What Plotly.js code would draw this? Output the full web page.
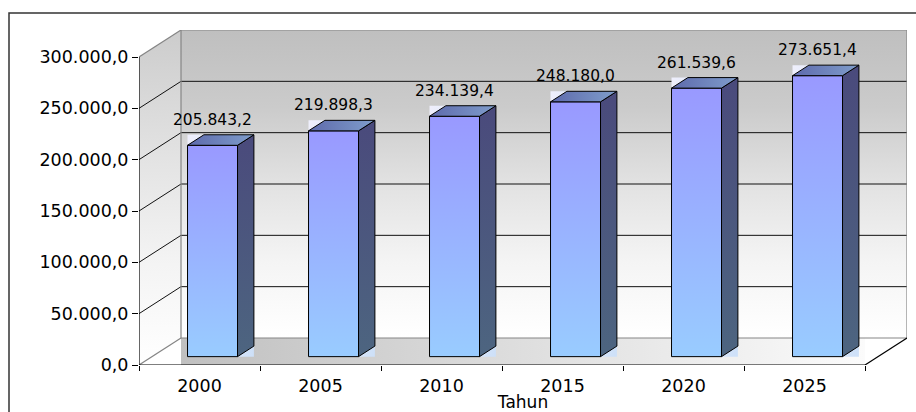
<!DOCTYPE html>
<html>
<head>
<meta charset="utf-8">
<script src="https://cdn.plot.ly/plotly-3.0.1.min.js"></script>
<style>
  html, body { margin: 0; padding: 0; background: #ffffff; }
  #chart { width: 916px; height: 412px; }
</style>
</head>
<body>
<div id="chart"></div>
<script>
// ---- data ----
const years = ['2000', '2005', '2010', '2015', '2020', '2025'];
const values = [205843.2, 219898.3, 234139.4, 248180.0, 261539.6, 273651.4];
const yTickVals = [0, 50000, 100000, 150000, 200000, 250000, 300000];
const xTitle = 'Tahun';

// ---- helpers ----
function fmt(v) {
  const s = v.toFixed(1).split('.');
  return s[0].replace(/\B(?=(\d{3})+(?!\d))/g, '.') + ',' + s[1];
}

// ---- geometry (oblique 3D projection) ----
const W = 916, H = 412;
const M = { l: 139, r: 9, t: 30, b: 47 };
const plotW = W - M.l - M.r, plotH = H - M.t - M.b;
const depthPxX = 42, depthPxY = 27;
const n = years.length;
const yMax = yTickVals[yTickVals.length - 1];
const pxPerX = (plotW - depthPxX) / n;
const pxPerY = (plotH - depthPxY) / yMax;
const DX = depthPxX / pxPerX;
const DY = depthPxY / pxPerY;
const xLo = -0.5, xHi = n - 0.5;
const z0 = 0.31, z1 = 0.70;        // bar depth span
const hw = 0.2066;                 // bar half width (category units)

function P(x, y, z) { return [x + z * DX, y + z * DY]; }

const traces = [];
function poly(pts, opts) {
  const xs = pts.map(p => p[0]), ys = pts.map(p => p[1]);
  xs.push(xs[0]); ys.push(ys[0]);
  traces.push(Object.assign({
    type: 'scatter', mode: 'lines', x: xs, y: ys, fill: 'toself',
    hoverinfo: 'skip', showlegend: false,
    line: { width: 0, color: 'rgba(0,0,0,0)' }
  }, opts));
}
function lines(segs, color, width) {
  const xs = [], ys = [];
  segs.forEach(s => { xs.push(s[0][0], s[1][0], null); ys.push(s[0][1], s[1][1], null); });
  traces.push({ type: 'scatter', mode: 'lines', x: xs, y: ys, hoverinfo: 'skip',
    showlegend: false, line: { color: color, width: width } });
}

const wallScale = [[0, '#ffffff'], [0.25, '#f4f4f4'], [0.5, '#e2e2e2'], [0.75, '#cbcbcb'], [1, '#bfbfbf']];

// back wall
poly([P(xLo, 0, 1), P(xHi, 0, 1), P(xHi, yMax, 1), P(xLo, yMax, 1)], {
  fillgradient: { type: 'vertical', colorscale: wallScale }
});
// side wall
poly([P(xLo, 0, 0), P(xLo, 0, 1), P(xLo, yMax, 1), P(xLo, yMax, 0)], {
  fillgradient: { type: 'vertical', colorscale: [[0, '#ffffff'], [0.3, '#f4f4f4'], [0.6, '#e4e4e4'], [1, '#cccccc']] }
});
// floor (Excel draws it as a shaded box between the wall corner and the front corner)
poly([[P(xLo, 0, 1)[0], 0], [xHi, 0], [xHi, DY], [P(xLo, 0, 1)[0], DY]], {
  fillgradient: { type: 'horizontal', colorscale: [[0, '#c0c0c0'], [0.5, '#dedede'], [1, '#fbfbfb']] }
});

// gridlines
const grid = [];
yTickVals.slice(1, -1).forEach(v => {
  grid.push([P(xLo, v, 0), P(xLo, v, 1)]);
  grid.push([P(xLo, v, 1), P(xHi, v, 1)]);
});
lines(grid, '#111111', 1);

// wall edges (gray)
lines([
  [P(xLo, 0, 1), P(xLo, yMax, 1)],
  [P(xLo, yMax, 1), P(xHi, yMax, 1)],
  [P(xHi, yMax, 1), P(xHi, 0, 1)],
  [P(xLo, 0, 1), P(xHi, 0, 1)],
  [P(xLo, yMax, 0), P(xLo, yMax, 1)],
  [P(xLo, 0, 0), P(xLo, 0, 1)]
], '#858585', 1.2);

// bars
const ann = [];
values.forEach((v, i) => {
  const a = i - hw, b = i + hw;
  // background box artifact
  poly([[P(a, 0, z0)[0], P(a, 0, z0)[1]], [P(b, 0, z1)[0], P(a, 0, z0)[1]],
        [P(b, 0, z1)[0], P(b, v, z1)[1]], [P(a, 0, z0)[0], P(b, v, z1)[1]]], {
    fillgradient: { type: 'horizontal', colorscale: [[0, '#efeffc'], [1, '#cde0f8']] }
  });
  // front face
  poly([P(a, 0, z0), P(b, 0, z0), P(b, v, z0), P(a, v, z0)], {
    fillgradient: { type: 'vertical', colorscale: [[0, '#99ccff'], [1, '#9999ff']] },
    line: { color: '#000000', width: 1 }
  });
  // side face
  poly([P(b, 0, z0), P(b, 0, z1), P(b, v, z1), P(b, v, z0)], {
    fillgradient: { type: 'vertical', colorscale: [[0, '#4d6580'], [1, '#4a4a7c']] },
    line: { color: '#000000', width: 1 }
  });
  // top face
  poly([P(a, v, z0), P(b, v, z0), P(b, v, z1), P(a, v, z1)], {
    fillgradient: { type: 'horizontal', colorscale: [[0, '#5e6aac'], [1, '#7f9dcb']] },
    line: { color: '#000000', width: 1 }
  });
  const c = P(i, v, z0);
  ann.push({
    x: c[0], y: P(i, v, z1)[1], xref: 'x', yref: 'y', text: fmt(v), showarrow: false,
    yanchor: 'middle', yshift: 15,
    font: { family: 'DejaVu Sans, sans-serif', size: 15.5, color: '#000000' }
  });
});

// front axis lines
lines([
  [P(xLo, 0, 0), P(xLo, yMax, 0)],
  [P(xLo, 0, 0), P(xHi, 0, 0)],
  [P(xHi, 0, 0), P(xHi, 0, 1)]
], '#000000', 1.2);

// category boundaries for tick marks
const xBounds = [];
for (let k = 0; k <= n; k++) xBounds.push(k - 0.5);
const xCenters = years.map((_, k) => k);

// invisible trace that carries the tick-mark axis
traces.push({ type: 'scatter', mode: 'markers', x: xBounds, y: xBounds.map(() => 0),
  xaxis: 'x2', yaxis: 'y', marker: { opacity: 0, size: 1 }, hoverinfo: 'skip', showlegend: false });

const font = 'DejaVu Sans, sans-serif';
const layout = {
  width: W, height: H,
  margin: M,
  paper_bgcolor: '#ffffff', plot_bgcolor: '#ffffff',
  showlegend: false,
  xaxis: {
    range: [xLo, xHi + DX], showgrid: false, zeroline: false, showline: false,
    tickmode: 'array', tickvals: xCenters, ticktext: years,
    ticks: '', ticklabelstandoff: 8,
    tickfont: { family: font, size: 17.5, color: '#000000' },
    title: { text: xTitle, font: { family: font, size: 17, color: '#000000' }, standoff: 4 },
    fixedrange: true
  },
  xaxis2: {
    overlaying: 'x', anchor: 'y', side: 'bottom',
    range: [xLo, xHi + DX], showgrid: false, zeroline: false, showline: false,
    tickmode: 'array', tickvals: xBounds, showticklabels: false,
    ticks: 'outside', ticklen: 5, tickcolor: '#000000', tickwidth: 1,
    fixedrange: true
  },
  yaxis: {
    range: [0, yMax + DY], showgrid: false, zeroline: false, showline: false,
    tickmode: 'array', tickvals: yTickVals, ticktext: yTickVals.map(fmt),
    ticks: 'outside', ticklen: 6, tickcolor: '#000000', tickwidth: 1,
    tickfont: { family: font, size: 17.5, color: '#000000' },
    fixedrange: true
  },
  annotations: ann,
  shapes: [{
    type: 'rect', xref: 'paper', yref: 'paper', layer: 'above',
    x0: (9 - M.l) / plotW, x1: (W + 10 - M.l) / plotW,
    y0: (M.t + plotH - (H + 10)) / plotH, y1: (M.t + plotH - 13) / plotH,
    line: { color: '#333333', width: 1.5 }, fillcolor: 'rgba(0,0,0,0)'
  }]
};

Plotly.newPlot('chart', traces, layout, { staticPlot: true, displayModeBar: false });
</script>
</body>
</html>
